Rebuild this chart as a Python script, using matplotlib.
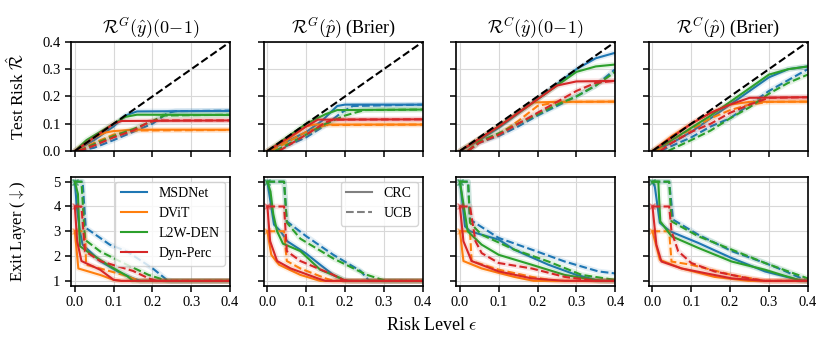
import matplotlib
matplotlib.use("Agg")
import matplotlib.pyplot as plt
from matplotlib.lines import Line2D

plt.rcParams['font.family'] = ['Liberation Serif', 'DejaVu Serif']
plt.rcParams['mathtext.fontset'] = 'cm'
plt.rcParams['axes.linewidth'] = 1.2

models = ["MSDNet", "DViT", "L2W-DEN", "Dyn-Perc"]
colors = ["#1f77b4", "#ff7f0e", "#2ca02c", "#d62728"]
max_layer = [5, 3, 5, 4]

titles = [r"$\mathcal{R}^G(\hat{y})(0\!-\!1)$", r"$\mathcal{R}^G(\hat{p})$ (Brier)",
          r"$\mathcal{R}^C(\hat{y})(0\!-\!1)$", r"$\mathcal{R}^C(\hat{p})$ (Brier)"]

# ---- test risk (top row), points are (eps, risk) ----
risk_gy_crc = [
    [(0, 0), (0.05, 0.04), (0.1, 0.09), (0.13, 0.13), (0.16, 0.145), (0.4, 0.147)],
    [(0, 0), (0.05, 0.05), (0.08, 0.068), (0.1, 0.073), (0.15, 0.078), (0.4, 0.078)],
    [(0, 0), (0.03, 0.04), (0.1, 0.1), (0.13, 0.125), (0.16, 0.133), (0.4, 0.132)],
    [(0, 0), (0.05, 0.05), (0.1, 0.1), (0.12, 0.11), (0.4, 0.112)],
]
risk_gy_ucb = [
    [(0.01, 0), (0.05, 0.012), (0.1, 0.04), (0.15, 0.07), (0.2, 0.1), (0.24, 0.14), (0.26, 0.146), (0.4, 0.148)],
    [(0.01, 0), (0.05, 0.03), (0.1, 0.06), (0.15, 0.075), (0.4, 0.077)],
    [(0.01, 0), (0.05, 0.025), (0.1, 0.055), (0.15, 0.08), (0.2, 0.11), (0.23, 0.13), (0.4, 0.133)],
    [(0.01, 0), (0.05, 0.02), (0.1, 0.05), (0.15, 0.075), (0.19, 0.105), (0.21, 0.112), (0.4, 0.112)],
]
risk_gp_crc = [
    [(0, 0), (0.1, 0.07), (0.14, 0.11), (0.18, 0.165), (0.2, 0.17), (0.4, 0.17)],
    [(0, 0), (0.05, 0.04), (0.1, 0.09), (0.12, 0.097), (0.4, 0.097)],
    [(0, 0), (0.05, 0.05), (0.1, 0.1), (0.15, 0.135), (0.18, 0.15), (0.4, 0.152)],
    [(0, 0), (0.05, 0.045), (0.1, 0.09), (0.13, 0.115), (0.4, 0.116)],
]
risk_gp_ucb = [
    [(0.02, 0), (0.1, 0.05), (0.15, 0.095), (0.19, 0.14), (0.22, 0.165), (0.4, 0.17)],
    [(0.01, 0), (0.1, 0.07), (0.15, 0.095), (0.4, 0.097)],
    [(0.02, 0), (0.1, 0.06), (0.15, 0.1), (0.2, 0.13), (0.25, 0.15), (0.4, 0.152)],
    [(0.03, 0), (0.1, 0.06), (0.15, 0.105), (0.17, 0.115), (0.4, 0.116)],
]
risk_cy_crc = [
    [(0, 0), (0.05, 0.04), (0.1, 0.085), (0.2, 0.19), (0.3, 0.3), (0.35, 0.34), (0.4, 0.36)],
    [(0, 0), (0.1, 0.09), (0.15, 0.14), (0.19, 0.178), (0.25, 0.18), (0.4, 0.181)],
    [(0, 0), (0.1, 0.09), (0.2, 0.19), (0.25, 0.24), (0.3, 0.29), (0.35, 0.31), (0.4, 0.317)],
    [(0, 0), (0.1, 0.09), (0.2, 0.19), (0.25, 0.24), (0.3, 0.255), (0.4, 0.257)],
]
risk_cy_ucb = [
    [(0.02, 0), (0.05, 0.03), (0.1, 0.055), (0.15, 0.09), (0.2, 0.13), (0.25, 0.165), (0.3, 0.2), (0.35, 0.24), (0.4, 0.3)],
    [(0.02, 0), (0.05, 0.035), (0.1, 0.06), (0.15, 0.11), (0.2, 0.165), (0.25, 0.18), (0.4, 0.181)],
    [(0.02, 0), (0.05, 0.035), (0.1, 0.065), (0.15, 0.1), (0.2, 0.135), (0.25, 0.17), (0.3, 0.2), (0.35, 0.24), (0.4, 0.29)],
    [(0.02, 0), (0.05, 0.03), (0.1, 0.06), (0.15, 0.1), (0.2, 0.14), (0.25, 0.18), (0.3, 0.22), (0.35, 0.25), (0.4, 0.257)],
]
risk_cp_crc = [
    [(0, 0), (0.05, 0.03), (0.1, 0.07), (0.15, 0.12), (0.2, 0.17), (0.25, 0.22), (0.3, 0.27), (0.35, 0.3), (0.4, 0.31)],
    [(0, 0), (0.05, 0.055), (0.1, 0.1), (0.15, 0.14), (0.2, 0.17), (0.25, 0.18), (0.4, 0.181)],
    [(0, 0), (0.05, 0.04), (0.1, 0.085), (0.15, 0.13), (0.2, 0.18), (0.25, 0.23), (0.3, 0.28), (0.35, 0.3), (0.4, 0.31)],
    [(0, 0), (0.05, 0.05), (0.1, 0.1), (0.15, 0.14), (0.2, 0.17), (0.25, 0.195), (0.4, 0.197)],
]
risk_cp_ucb = [
    [(0.02, 0), (0.1, 0.05), (0.15, 0.09), (0.2, 0.12), (0.25, 0.17), (0.3, 0.22), (0.35, 0.26), (0.4, 0.3)],
    [(0.01, 0), (0.05, 0.04), (0.1, 0.08), (0.15, 0.12), (0.2, 0.15), (0.25, 0.17), (0.3, 0.18), (0.4, 0.181)],
    [(0.04, 0), (0.1, 0.04), (0.15, 0.075), (0.2, 0.12), (0.25, 0.16), (0.3, 0.21), (0.35, 0.25), (0.4, 0.28)],
    [(0.02, 0), (0.05, 0.03), (0.1, 0.07), (0.15, 0.1), (0.2, 0.14), (0.25, 0.17), (0.3, 0.195), (0.4, 0.197)],
]

# ---- exit layer (bottom row), points are (eps, layer) ----
layer_gy_crc = [
    [(0, 5), (0.005, 4), (0.013, 3), (0.02, 2.46), (0.065, 1.8), (0.11, 1.38), (0.15, 1.1), (0.17, 1), (0.4, 1)],
    [(0, 3), (0.009, 1.5), (0.065, 1.24), (0.1, 1.04), (0.12, 1), (0.4, 1)],
    [(0, 5), (0.008, 4.5), (0.013, 2.4), (0.04, 2.1), (0.09, 1.6), (0.134, 1.2), (0.15, 1), (0.4, 1)],
    [(0, 4), (0.006, 2.6), (0.017, 1.8), (0.065, 1.45), (0.1, 1.04), (0.12, 1), (0.4, 1)],
]
layer_gy_ucb = [
    [(0, 5), (0.02, 5), (0.028, 3.14), (0.09, 2.46), (0.134, 2.19), (0.2, 1.51), (0.237, 1.04), (0.25, 1), (0.4, 1)],
    [(0, 3), (0.026, 3), (0.029, 1.65), (0.065, 1.5), (0.125, 1.24), (0.16, 1.04), (0.17, 1), (0.4, 1)],
    [(0, 5), (0.017, 5), (0.026, 2.66), (0.065, 2.19), (0.134, 1.65), (0.19, 1.24), (0.23, 1.04), (0.24, 1), (0.4, 1)],
    [(0, 4), (0.017, 4), (0.026, 2.2), (0.065, 1.8), (0.15, 1.4), (0.19, 1.1), (0.21, 1), (0.4, 1)],
]
layer_gp_crc = [
    [(0, 5), (0.017, 3.27), (0.034, 3.0), (0.051, 2.6), (0.1, 2.1), (0.136, 1.65), (0.17, 1.24), (0.195, 1.04), (0.22, 1), (0.4, 1)],
    [(0, 3), (0.01, 2.05), (0.03, 1.65), (0.085, 1.24), (0.136, 1), (0.4, 1)],
    [(0, 5), (0.008, 4.6), (0.015, 3.7), (0.025, 3), (0.04, 2.5), (0.085, 2.2), (0.136, 1.45), (0.19, 1.1), (0.2, 1), (0.4, 1)],
    [(0, 4), (0.007, 2.6), (0.025, 1.8), (0.06, 1.5), (0.13, 1.1), (0.15, 1), (0.4, 1)],
]
layer_gp_ucb = [
    [(0, 5), (0.043, 5), (0.05, 3.4), (0.1, 2.8), (0.17, 2.05), (0.24, 1.4), (0.26, 1.04), (0.27, 1), (0.4, 1)],
    [(0, 3), (0.043, 3), (0.05, 1.8), (0.085, 1.5), (0.15, 1.1), (0.17, 1), (0.4, 1)],
    [(0, 5), (0.043, 5), (0.05, 3.35), (0.085, 2.7), (0.17, 1.9), (0.255, 1.25), (0.305, 1), (0.4, 1)],
    [(0, 4), (0.043, 4), (0.05, 2.2), (0.085, 1.8), (0.17, 1.24), (0.195, 1.04), (0.21, 1), (0.4, 1)],
]
layer_cy_crc = [
    [(0, 5), (0.004, 4.5), (0.013, 3.2), (0.026, 3.0), (0.1, 2.66), (0.14, 2.26), (0.228, 1.65), (0.3, 1.24), (0.35, 1.04), (0.38, 1), (0.4, 1)],
    [(0, 3), (0.009, 1.8), (0.056, 1.5), (0.14, 1.16), (0.19, 1), (0.4, 1)],
    [(0, 5), (0.008, 4.2), (0.02, 3.0), (0.056, 2.46), (0.1, 2.05), (0.185, 1.65), (0.27, 1.24), (0.36, 1), (0.4, 1)],
    [(0, 4), (0.009, 2.6), (0.03, 1.8), (0.1, 1.38), (0.185, 1.1), (0.27, 1), (0.4, 1)],
]
layer_cy_ucb = [
    [(0, 5), (0.021, 5), (0.026, 3.47), (0.1, 2.73), (0.185, 2.26), (0.27, 1.78), (0.357, 1.38), (0.4, 1.3)],
    [(0, 3), (0.026, 3), (0.03, 1.8), (0.1, 1.45), (0.185, 1.16), (0.245, 1), (0.4, 1)],
    [(0, 5), (0.021, 5), (0.026, 3.34), (0.056, 2.86), (0.14, 2.26), (0.228, 1.78), (0.314, 1.24), (0.4, 1.04)],
    [(0, 4), (0.026, 4), (0.04, 2.6), (0.056, 2.12), (0.1, 1.72), (0.185, 1.5), (0.27, 1.16), (0.33, 1.04), (0.36, 1), (0.4, 1)],
]
layer_cp_crc = [
    [(0, 5), (0.006, 4.8), (0.019, 3.34), (0.045, 3.0), (0.118, 2.53), (0.204, 1.92), (0.29, 1.38), (0.376, 1.04), (0.4, 1)],
    [(0, 3), (0.019, 1.85), (0.075, 1.5), (0.16, 1.16), (0.247, 1), (0.4, 1)],
    [(0, 5), (0.015, 5), (0.02, 3.4), (0.049, 2.8), (0.118, 2.33), (0.204, 1.78), (0.29, 1.45), (0.333, 1.24), (0.385, 1), (0.4, 1)],
    [(0, 4), (0.01, 2.46), (0.023, 1.78), (0.075, 1.5), (0.204, 1.1), (0.29, 1), (0.4, 1)],
]
layer_cp_ucb = [
    [(0, 5), (0.043, 5), (0.053, 3.47), (0.118, 2.86), (0.204, 2.2), (0.29, 1.72), (0.333, 1.45), (0.393, 1.04), (0.4, 1)],
    [(0, 3), (0.043, 3), (0.049, 1.78), (0.1, 1.65), (0.204, 1.24), (0.29, 1), (0.4, 1)],
    [(0, 5), (0.043, 5), (0.049, 3.4), (0.118, 2.8), (0.204, 2.26), (0.29, 1.72), (0.35, 1.38), (0.4, 1.1)],
    [(0, 4), (0.043, 4), (0.049, 3.0), (0.066, 2.2), (0.1, 1.72), (0.16, 1.38), (0.247, 1.1), (0.29, 1), (0.4, 1)],
]

risk_panels = [(risk_gy_crc, risk_gy_ucb), (risk_gp_crc, risk_gp_ucb),
               (risk_cy_crc, risk_cy_ucb), (risk_cp_crc, risk_cp_ucb)]
layer_panels = [(layer_gy_crc, layer_gy_ucb), (layer_gp_crc, layer_gp_ucb),
                (layer_cy_crc, layer_cy_ucb), (layer_cp_crc, layer_cp_ucb)]

fig, axes = plt.subplots(2, 4, figsize=(8.31, 3.52), dpi=100, sharex=True)
fig.subplots_adjust(left=0.0854, right=0.972, top=0.881, bottom=0.188, wspace=0.21, hspace=0.236)


def draw(ax, curve, color, ls):
    xs = [p[0] for p in curve]
    ys = [p[1] for p in curve]
    ax.plot(xs, ys, color=color, lw=4, alpha=0.12, solid_capstyle='round')
    ax.plot(xs, ys, color=color, lw=1.5, ls=ls)


for j in range(4):
    ax = axes[0, j]
    crc, ucb = risk_panels[j]
    ax.plot([0, 0.4], [0, 0.4], color='k', ls='--', lw=1.5, zorder=5)
    for i in range(4):
        draw(ax, crc[i], colors[i], '-')
        draw(ax, ucb[i], colors[i], '--')
    ax.set_ylim(0, 0.4)
    ax.set_yticks([0, 0.1, 0.2, 0.3, 0.4])
    ax.set_title(titles[j], fontsize=13, pad=6)

    ax = axes[1, j]
    crc, ucb = layer_panels[j]
    for i in range(4):
        draw(ax, crc[i], colors[i], '-')
        draw(ax, ucb[i], colors[i], '--')
        ax.plot([0], [max_layer[i]], marker='x', color=colors[i], ms=5, alpha=0.5, ls='none')
    ax.set_ylim(0.8, 5.2)
    ax.set_yticks([1, 2, 3, 4, 5])

for ax in axes.flat:
    ax.set_xlim(-0.01, 0.4)
    ax.set_xticks([0, 0.1, 0.2, 0.3, 0.4])
    ax.grid(True, color='#d8d8d8', lw=0.8)
    ax.set_axisbelow(True)
    ax.tick_params(direction='out', length=4, width=1.1, labelsize=10.5)

for j in range(1, 4):
    axes[0, j].tick_params(labelleft=False)
    axes[1, j].tick_params(labelleft=False)

axes[0, 0].set_ylabel(r"Test Risk $\hat{\mathcal{R}}$", fontsize=12.5)
axes[1, 0].set_ylabel(r"Exit Layer ($\downarrow$)", fontsize=12)
axes[0, 0].yaxis.set_label_coords(-0.27, 0.5)
axes[1, 0].yaxis.set_label_coords(-0.27, 0.5)
fig.text(0.52, 0.075, r"Risk Level $\epsilon$", ha='center', va='center', fontsize=13)

model_handles = [Line2D([], [], color=c, lw=1.5) for c in colors]
axes[1, 0].legend(model_handles, models, loc='upper right', fontsize=10, handlelength=1.9,
                  borderaxespad=0.35, labelspacing=0.5)
style_handles = [Line2D([], [], color='0.5', lw=1.5, ls='-'),
                 Line2D([], [], color='0.5', lw=1.5, ls='--')]
axes[1, 1].legend(style_handles, ["CRC", "UCB"], loc='upper right', fontsize=10, handlelength=1.9,
                  borderaxespad=0.35, labelspacing=0.5)

fig.savefig("out.png", dpi=100)
